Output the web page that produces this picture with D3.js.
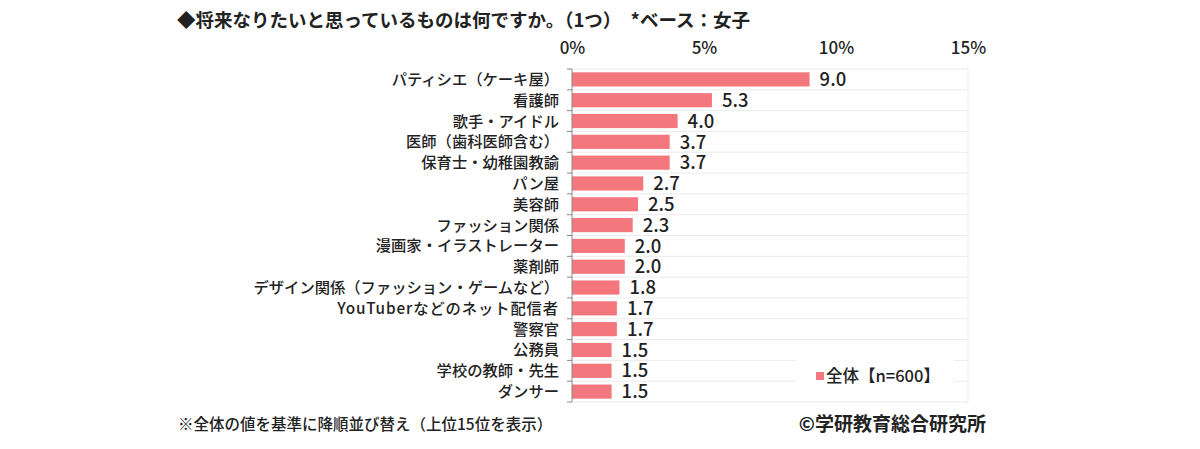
<!DOCTYPE html>
<html><head><meta charset="utf-8">
<script src="https://cdn.jsdelivr.net/npm/d3@7"></script>
<style>
html,body{margin:0;padding:0;background:#fff;}
text{font-family:"Noto Sans CJK JP","Noto Sans",sans-serif;fill:#222;}
</style></head>
<body><svg id="c" width="1200" height="449"></svg>
<script>
const categories = ["パティシエ（ケーキ屋）","看護師","歌手・アイドル","医師（歯科医師含む）","保育士・幼稚園教諭","パン屋","美容師","ファッション関係","漫画家・イラストレーター","薬剤師","デザイン関係（ファッション・ゲームなど）","YouTuberなどのネット配信者","警察官","公務員","学校の教師・先生","ダンサー"];
const values = [9.0,5.3,4.0,3.7,3.7,2.7,2.5,2.3,2.0,2.0,1.8,1.7,1.7,1.5,1.5,1.5];
const xTicks = [0,5,10,15];
const title = "◆将来なりたいと思っているものは何ですか。（1つ）\u3000*ベース：女子";
const legendLabel = "全体【n=600】";
const footnote = "※全体の値を基準に降順並び替え（上位15位を表示）";
const credit = "©学研教育総合研究所";

const svg = d3.select("#c");
const L=572, R=968, T=69, B=402;
const x = d3.scaleLinear().domain([0,15]).range([L,R]);
const y = d3.scaleBand().domain(categories).range([T,B]).paddingInner(0.32).paddingOuter(0.16);
const barColor = "#f4777e";

const bounds = d3.range(categories.length+1).map(i=>T + i*(B-T)/categories.length);
svg.append("g").selectAll("line").data(bounds).join("line")
  .attr("x1",L).attr("x2",R).attr("y1",d=>d).attr("y2",d=>d)
  .attr("stroke","#ebebeb").attr("stroke-width",1);
svg.append("line").attr("x1",R).attr("x2",R).attr("y1",T).attr("y2",B).attr("stroke","#ebebeb");

// legend white box
svg.append("rect").attr("x",796).attr("y",352).attr("width",158).attr("height",44).attr("fill","#fff");

// bars
svg.append("g").selectAll("rect").data(categories).join("rect")
  .attr("x",x(0)).attr("y",d=>y(d)).attr("height",y.bandwidth())
  .attr("width",(d,i)=>x(values[i])-x(0)).attr("fill",barColor);

// value labels
svg.append("g").selectAll("text").data(categories).join("text")
  .attr("x",(d,i)=>x(values[i])+10).attr("y",d=>y(d)+y.bandwidth()/2)
  .attr("dy","0.36em").attr("font-size",18.5).attr("font-weight",500)
  .text((d,i)=>values[i].toFixed(1));

// left axis
const yAxis = svg.append("g");
yAxis.append("line").attr("x1",L).attr("x2",L).attr("y1",T).attr("y2",B).attr("stroke","#888");
yAxis.selectAll("line.t").data(bounds).join("line").attr("class","t")
  .attr("x1",L-5).attr("x2",L).attr("y1",d=>d).attr("y2",d=>d).attr("stroke","#888");
yAxis.selectAll("text").data(categories).join("text")
  .attr("x",559).attr("y",d=>y(d)+y.bandwidth()/2).attr("dy","0.36em")
  .attr("text-anchor","end").attr("font-size",15.3).attr("font-weight",500)
  .attr("letter-spacing",d=>/^[A-Za-z]/.test(d)?"0.9px":null)
  .text(d=>d);

// top tick labels
const xAxis = d3.axisTop(x).tickValues(xTicks).tickFormat(d=>d+"%").tickSize(0);
const gx = svg.append("g").attr("transform",`translate(0,${T-12})`).call(xAxis);
gx.select(".domain").remove();
gx.selectAll("text").attr("font-size",17).attr("font-weight",500)
  .style("font-family","'Noto Sans CJK JP',sans-serif").attr("fill","#222");

// title
svg.append("text").attr("x",177).attr("y",27).attr("font-size",18.5).attr("font-weight",700).text(title);

// legend
svg.append("rect").attr("x",816).attr("y",372).attr("width",8).attr("height",8).attr("fill",barColor);
svg.append("text").attr("x",826).attr("y",376).attr("dy","0.36em").attr("font-size",16.5).attr("font-weight",500).text(legendLabel);

// footnote & credit
svg.append("text").attr("x",178).attr("y",430).attr("font-size",15.5).attr("font-weight",500).text(footnote);
svg.append("text").attr("x",986).attr("y",431).attr("text-anchor","end").attr("font-size",19).attr("font-weight",700).text(credit);
</script></body></html>
